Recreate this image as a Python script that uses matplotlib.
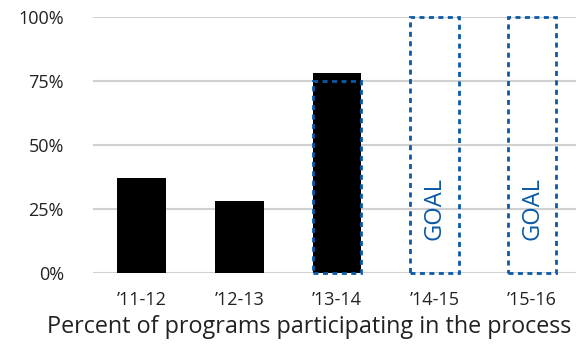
import matplotlib
matplotlib.use("Agg")
import matplotlib.pyplot as plt
from matplotlib.ticker import FuncFormatter

years = ["\u201911-12", "\u201912-13", "\u201913-14", "\u201914-15", "\u201915-16"]
actual = [37, 28, 78, None, None]
goal = [None, None, 75, 100, 100]
goal_label_idx = [3, 4]
yticks = [0, 25, 50, 75, 100]

plt.rcParams["font.family"] = ["Open Sans", "DejaVu Sans"]

fig = plt.figure(figsize=(5.76, 3.52), dpi=100)
ax = fig.add_axes([93 / 576, 0.2253, 1 - 93 / 576, 0.9526 - 0.2253])

blue = "#0b5aa6"
x = list(range(len(years)))
w = 0.5

for i, v in enumerate(actual):
    if v is not None:
        ax.bar(i, v, width=w, color="black", zorder=2)

for i, g in enumerate(goal):
    if g is not None:
        ax.bar(i, g, width=w, fill=False, edgecolor=blue, linewidth=2.0,
               linestyle=(0, (1.8, 1.6)), zorder=3, clip_on=False)

for i in goal_label_idx:
    ax.text(i, 25, "GOAL", rotation=90, ha="center", va="center",
            color=blue, fontsize=17)

ax.set_xlim(-0.5, 4.45)
ax.set_ylim(0, 100)
ax.set_yticks(yticks)
ax.yaxis.set_major_formatter(FuncFormatter(lambda v, p: f"{v:.0f}%"))
ax.set_xticks(x)
ax.set_xticklabels(years)
ax.grid(axis="y", color="#d0d0d0", linewidth=1.5, zorder=0)
ax.set_axisbelow(True)
for s in ax.spines.values():
    s.set_visible(False)
ax.tick_params(axis="both", length=0, labelsize=13, colors="#222222")
ax.tick_params(axis="y", pad=21)
ax.tick_params(axis="x", pad=13)

# caption centred under the whole figure
fig.text(309 / 576, 1 - 333 / 352,
         "Percent of programs participating in the process",
         ha="center", va="baseline", fontsize=16.8, color="#222222")

fig.savefig("out.png", dpi=100)
